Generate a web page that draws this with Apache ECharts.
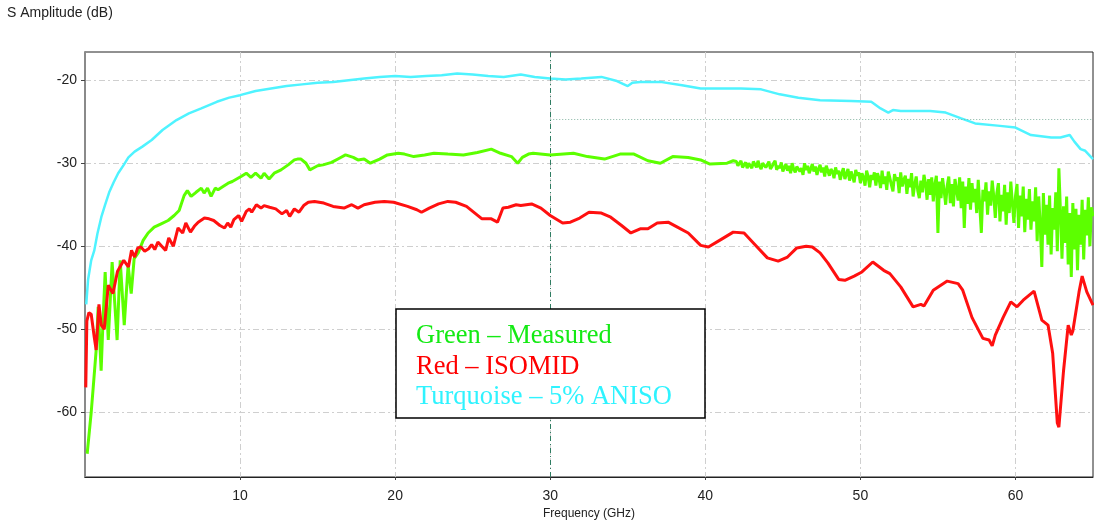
<!DOCTYPE html>
<html>
<head>
<meta charset="utf-8">
<script src="https://cdn.jsdelivr.net/npm/echarts@6/dist/echarts.min.js"></script>
<style>
  html, body { margin: 0; padding: 0; background: #fff; }
  #chart { width: 1094px; height: 520px; }
</style>
</head>
<body>
<div id="chart"></div>
<script>
// ---- tick labels ----
var xTicks = [10, 20, 30, 40, 50, 60];
var yTicks = [-60, -50, -40, -30, -20];

// ---- Turquoise – 5% ANISO ----
var cyanData = [
  [0.08,-47],[0.2,-44],[0.4,-41.7],[0.6,-40.5],[0.8,-38.5],[1.05,-36.5],[1.3,-35.0],[1.56,-33.5],
  [1.85,-32.3],[2.14,-31.2],[2.5,-30.2],[2.8,-29.3],[3.2,-28.6],[3.7,-28.0],[4.3,-27.2],[5.0,-26.0],
  [5.9,-24.8],[6.7,-24.0],[7.5,-23.4],[8.5,-22.6],[9.3,-22.1],[10,-21.8],[11,-21.3],[12,-21.0],
  [13,-20.7],[14,-20.5],[15,-20.3],[16,-20.2],[17,-20.0],[18,-19.8],[19,-19.6],[20,-19.5],
  [21,-19.6],[22,-19.5],[23,-19.4],[24,-19.2],[25,-19.3],[25.5,-19.4],[26,-19.5],[27,-19.6],
  [28.1,-19.3],[29,-19.6],[30,-19.8],[31,-19.9],[32,-19.8],[33.3,-19.6],[34.3,-20.1],[35,-20.7],
  [35.3,-20.3],[35.8,-20.2],[37.1,-20.2],[38.5,-20.6],[39.7,-21.0],[41,-21.0],[42.3,-21.0],
  [43.6,-21.1],[44.8,-21.7],[46,-22.1],[47.4,-22.4],[49.4,-22.5],[50.7,-22.6],[51.3,-23.4],
  [51.8,-23.9],[52.1,-23.6],[52.6,-23.7],[54.5,-23.7],[55.5,-23.9],[56.5,-24.6],[57.4,-25.2],
  [59,-25.5],[60,-25.7],[61,-26.6],[62.3,-26.9],[62.9,-26.9],[63.5,-26.6],[63.8,-27.4],
  [64.2,-28.3],[64.5,-28.5],[65,-29.5]
];

// ---- Red – ISOMID ----
var redData = [
  [0.05,-57],[0.12,-49],[0.25,-48],[0.4,-48.2],[0.6,-51],[0.72,-52.5],[0.9,-47],[1.05,-49.5],
  [1.24,-50],[1.5,-44.7],[1.8,-45.7],[2.1,-43],[2.5,-41.7],[2.8,-42.5],[3.0,-40.5],[3.2,-41.3],
  [3.4,-40.2],[3.6,-40.1],[3.85,-40.6],[4.1,-40.3],[4.3,-39.8],[4.5,-40.4],[4.7,-39.5],[4.95,-40.0],
  [5.2,-40.5],[5.4,-39.0],[5.7,-40.0],[6.0,-37.8],[6.3,-38.4],[6.5,-37.2],[6.8,-38.3],[7.05,-37.6],
  [7.3,-37.1],[7.7,-36.6],[8.0,-36.7],[8.3,-36.9],[8.7,-37.5],[9.0,-37.8],[9.2,-37.2],[9.4,-37.7],
  [9.6,-36.8],[9.9,-36.3],[10.1,-37.0],[10.4,-35.8],[10.6,-35.5],[10.75,-35.9],[11.05,-35.0],
  [11.35,-35.4],[11.55,-35.1],[11.9,-35.3],[12.3,-35.5],[12.7,-36.1],[13.0,-35.7],[13.2,-36.4],
  [13.5,-35.5],[13.8,-35.9],[14.1,-35.1],[14.4,-34.7],[14.8,-34.6],[15.4,-34.8],[16.0,-35.2],
  [16.7,-35.4],[17.2,-35.0],[17.6,-35.4],[18.0,-35.0],[18.7,-34.7],[19.3,-34.6],[19.9,-34.7],
  [20.8,-35.2],[21.4,-35.6],[21.7,-35.9],[22.2,-35.4],[22.8,-34.9],[23.4,-34.6],[23.9,-34.7],
  [24.6,-35.2],[25.2,-36.1],[25.6,-36.7],[26.2,-36.7],[26.6,-37.1],[26.95,-35.4],[27.3,-35.3],
  [27.8,-35.0],[28.1,-35.1],[28.8,-34.9],[29.4,-35.4],[30.0,-36.3],[30.8,-37.2],[31.3,-37.1],
  [31.9,-36.6],[32.5,-35.9],[33.3,-36.0],[33.9,-36.5],[34.6,-37.5],[35.2,-38.4],[35.8,-37.9],
  [36.3,-37.9],[36.9,-37.2],[37.6,-37.1],[38.2,-37.7],[38.9,-38.4],[39.7,-39.9],[40.2,-40.1],
  [41.0,-39.2],[41.8,-38.3],[42.5,-38.4],[43.1,-39.6],[44.0,-41.4],[44.7,-41.8],[45.3,-41.3],
  [45.9,-40.2],[46.5,-40.0],[46.9,-40.1],[47.4,-40.8],[47.9,-42.0],[48.6,-44.0],[49.0,-44.1],
  [49.6,-43.6],[50.1,-43.1],[50.8,-41.9],[51.5,-42.9],[51.9,-43.3],[52.6,-44.9],[53.4,-47.3],
  [53.9,-47.0],[54.1,-47.2],[54.7,-45.3],[55.6,-44.2],[56.3,-44.5],[56.6,-45.3],[57.2,-48.6],
  [57.9,-51.1],[58.3,-51.3],[58.5,-52.0],[58.7,-50.7],[59.2,-48.6],[59.7,-46.7],[60.1,-47.3],
  [60.5,-46.5],[61.2,-45.4],[61.3,-45.6],[61.7,-48.9],[62.1,-49.5],[62.4,-52.9],[62.7,-61.3],
  [62.8,-61.8],[63.1,-55.0],[63.4,-49.5],[63.6,-50.7],[63.7,-50.2],[64.1,-45.5],[64.3,-43.6],
  [64.6,-45.5],[65.0,-47.1]
];

// ---- Green – Measured (smooth part, to 41.8 GHz) ----
var greenData = [
  [0.14,-65],[0.27,-62.5],[0.4,-60],[0.53,-57],[0.72,-52.5],[0.85,-47.3],[1.04,-55],[1.17,-48.6],
  [1.3,-43.1],[1.5,-51.3],[1.75,-41.9],[2.07,-51.3],[2.27,-41.7],[2.53,-49.5],[2.78,-42.3],
  [2.98,-45.7],[3.17,-41.5],[3.43,-40.8],[3.75,-39.3],[4.07,-38.4],[4.46,-37.7],[4.91,-37.3],
  [5.36,-36.9],[5.75,-36.3],[6.07,-35.7],[6.39,-33.9],[6.6,-33.3],[6.84,-34.0],[7.16,-33.5],
  [7.5,-33.0],[7.68,-33.6],[7.9,-33.0],[8.13,-34.0],[8.4,-33.0],[8.58,-33.2],[8.9,-32.8],
  [9.23,-32.4],[9.5,-32.2],[10.06,-31.6],[10.4,-31.2],[10.7,-31.7],[11.0,-31.2],[11.35,-31.8],
  [11.55,-31.2],[11.87,-31.9],[12.2,-31.2],[12.64,-30.8],[13.1,-30.2],[13.5,-29.6],[13.7,-29.5],
  [13.93,-29.5],[14.25,-30.0],[14.5,-30.8],[14.7,-30.6],[15.0,-30.3],[15.35,-30.2],[15.9,-29.9],
  [16.4,-29.4],[16.8,-29.0],[17.3,-29.3],[17.6,-29.6],[18.0,-29.5],[18.4,-30.0],[19.0,-29.5],
  [19.5,-29.0],[20.2,-28.8],[20.6,-28.9],[21.2,-29.2],[21.9,-29.0],[22.5,-28.8],[23.4,-28.9],
  [24.4,-29.0],[25.3,-28.7],[26.2,-28.3],[26.8,-28.8],[27.5,-29.2],[27.9,-30.0],[28.2,-29.3],
  [28.6,-28.9],[28.9,-28.8],[30.0,-29.0],[31.5,-28.8],[32.4,-29.2],[33.5,-29.5],[34.5,-28.9],
  [35.4,-28.9],[36.3,-29.7],[37.1,-30.0],[37.9,-29.2],[38.9,-29.3],[39.7,-29.6],[40.3,-30.1],
  [41.4,-30.0],[41.8,-29.7]
];

// ---- Green – Measured (noisy part: samples every 0.1 GHz from 42.0 GHz) ----
var greenNoiseStart = 42.0;
var greenNoiseStep = 0.1;
var greenNoiseDb = [
  -29.8,-30.3,-30.1,-29.7,-30.5,-30.2,-29.9,-30.6,-30.0,-30.3,
  -30.6,-29.8,-30.0,-30.5,-29.7,-30.4,-30.7,-30.0,-29.8,-30.5,
  -30.2,-29.8,-30.7,-30.4,-30.0,-29.7,-30.8,-30.3,-30.6,-29.9,
  -31.0,-30.5,-30.1,-30.9,-30.3,-31.2,-30.0,-30.7,-31.1,-30.4,
  -30.2,-31.0,-30.6,-31.4,-30.0,-30.8,-30.3,-31.2,-30.7,-30.1,
  -31.0,-30.4,-31.4,-30.7,-30.2,-31.1,-30.5,-31.6,-30.3,-30.9,
  -31.5,-30.7,-31.0,-31.8,-30.5,-31.3,-30.9,-32.0,-31.2,-30.6,
  -31.9,-31.3,-30.7,-32.1,-31.0,-31.6,-32.3,-30.8,-31.5,-31.1,
  -32.4,-31.2,-31.7,-32.7,-30.9,-31.6,-32.9,-31.4,-32.0,-31.1,
  -32.7,-31.2,-31.8,-33.0,-30.9,-32.5,-31.6,-33.2,-31.0,-31.8,
  -32.6,-33.4,-31.3,-32.1,-31.7,-33.6,-31.1,-32.8,-32.0,-31.5,
  -33.7,-31.9,-32.9,-31.2,-34.0,-32.6,-31.6,-33.3,-34.2,-32.1,
  -33.5,-31.4,-32.4,-34.4,-31.9,-33.8,-31.7,-34.6,-32.6,-31.5,
  -38.4,-32.2,-34.2,-31.8,-33.3,-35.0,-32.7,-31.6,-34.8,-32.5,
  -35.2,-31.9,-33.2,-34.5,-31.7,-35.4,-32.2,-37.8,-32.8,-34.9,
  -31.8,-35.6,-32.4,-34.7,-33.1,-36.0,-32.0,-35.2,-38.4,-33.2,
  -34.6,-32.3,-36.2,-33.4,-35.1,-32.1,-34.0,-36.6,-33.6,-32.4,
  -37.0,-33.8,-35.8,-32.6,-37.4,-33.5,-36.0,-32.2,-34.8,-37.2,
  -34.0,-32.5,-37.8,-33.9,-36.4,-32.8,-38.3,-34.3,-36.8,-33.1,
  -38.0,-34.6,-37.0,-32.9,-39.4,-34.0,-37.6,-42.5,-33.6,-38.6,
  -35.0,-39.8,-33.9,-41.0,-35.4,-38.0,-33.5,-40.6,-30.6,-35.8,
  -41.5,-35.2,-39.6,-34.0,-42.2,-36.0,-43.7,-34.8,-40.4,-35.5,
  -42.9,-36.2,-39.8,-34.4,-41.6,-35.6,-38.7,-34.1,-40.0,-35.3,
  -36.4
];

// ---- marker lines ----
var markerFreq = 30;
var markerLevel = -24.7;

var greenAll = greenData.slice();
greenNoiseDb.forEach(function (v, i) {
  greenAll.push([+(greenNoiseStart + i * greenNoiseStep).toFixed(2), v]);
});

var gridDash = [6, 3, 2, 3];
var chart = echarts.init(document.getElementById('chart'), null, { renderer: 'canvas' });
chart.setOption({
  animation: false,
  backgroundColor: '#ffffff',
  grid: { left: 85, top: 52, right: 1, bottom: 43, show: true, borderColor: '#222', borderWidth: 1,
          backgroundColor: 'transparent', containLabel: false, outerBoundsMode: 'none' },
  xAxis: {
    type: 'value', min: 0, max: 65,
    name: 'Frequency (GHz)', nameLocation: 'middle', nameGap: 30,
    nameTextStyle: { fontFamily: 'Liberation Sans', fontSize: 12, color: '#222' },
    axisLine: { show: true, onZero: false, lineStyle: { color: '#222', width: 1 } },
    axisTick: { show: true, length: 3, customValues: xTicks, lineStyle: { color: '#444' } },
    axisLabel: { customValues: xTicks, margin: 12, fontFamily: 'Liberation Sans', fontSize: 14, color: '#222' },
    splitLine: { show: true, lineStyle: { color: '#cfcfcf', width: 1, type: gridDash } }
  },
  yAxis: {
    type: 'value', min: -67.8, max: -16.6,
    axisLine: { show: true, onZero: false, lineStyle: { color: '#8a8a8a', width: 2 } },
    axisTick: { show: true, length: 4, customValues: yTicks, lineStyle: { color: '#444' } },
    axisLabel: { customValues: yTicks, margin: 8, fontFamily: 'Liberation Sans', fontSize: 14, color: '#222' },
    splitLine: { show: true, lineStyle: { color: '#cfcfcf', width: 1, type: gridDash } }
  },
  series: [
    {
      name: 'Turquoise', type: 'line', data: cyanData, showSymbol: false,
      lineStyle: { color: '#4ff3ff', width: 2.5 }, z: 3,
      markLine: {
        silent: true, symbol: 'none', label: { show: false }, animation: false,
        data: [
          [{ coord: [markerFreq, -67.8], lineStyle: { color: '#2f7d62', width: 1, type: [5, 3, 1, 3] } },
           { coord: [markerFreq, -16.6] }],
          [{ coord: [markerFreq, markerLevel], lineStyle: { color: '#86b5a3', width: 1, type: [1, 2] } },
           { coord: [65, markerLevel] }]
        ]
      }
    },
    { name: 'Green', type: 'line', data: greenAll, showSymbol: false, lineStyle: { color: '#5cff00', width: 3 }, z: 4 },
    { name: 'Red', type: 'line', data: redData, showSymbol: false, lineStyle: { color: '#ff1010', width: 3 }, z: 5 }
  ],
  graphic: [
    { type: 'text', left: 7, top: 6, style: { text: 'S Amplitude (dB)', font: '14px "Liberation Sans"', fill: '#222' } },
    { type: 'rect', shape: { x: 396, y: 309, width: 309, height: 109 }, style: { fill: '#ffffff', stroke: '#000', lineWidth: 1.5 }, z: 100 },
    { type: 'text', x: 416, y: 336, style: { text: 'Green – Measured', font: '26.5px "Liberation Serif"', fill: '#14ea14', textVerticalAlign: 'middle' }, z: 101 },
    { type: 'text', x: 416, y: 367, style: { text: 'Red – ISOMID', font: '26.5px "Liberation Serif"', fill: '#ff0000', textVerticalAlign: 'middle' }, z: 101 },
    { type: 'text', x: 416, y: 397, style: { text: 'Turquoise – 5% ANISO', font: '26.5px "Liberation Serif"', fill: '#2ff3ff', textVerticalAlign: 'middle' }, z: 101 }
  ]
});
</script>
</body>
</html>
